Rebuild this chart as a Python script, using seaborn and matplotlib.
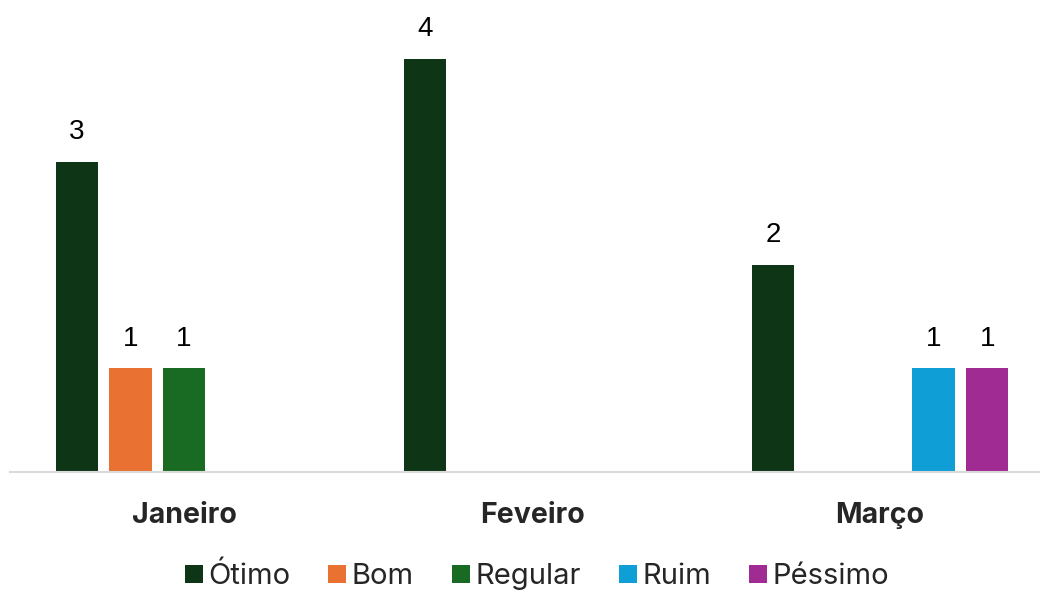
import matplotlib
matplotlib.use("Agg")
import matplotlib.pyplot as plt
from matplotlib.lines import Line2D
import seaborn as sns
import pandas as pd

# Avaliações por mês
meses = ["Janeiro", "Feveiro", "Março"]
categorias = ["Ótimo", "Bom", "Regular", "Ruim", "Péssimo"]
otimo = [3, 4, 2]
bom = [1, 0, 0]
regular = [1, 0, 0]
ruim = [0, 0, 1]
pessimo = [0, 0, 1]
cores = ["#0E3515", "#E97132", "#196B24", "#0F9ED5", "#A02B93"]

series = [otimo, bom, regular, ruim, pessimo]
linhas = []
for cat, vals in zip(categorias, series):
    for mes, v in zip(meses, vals):
        linhas.append({"mes": mes, "categoria": cat, "valor": v})
df = pd.DataFrame(linhas)
df = df[df["valor"] > 0]

sns.set_theme(style="white")
plt.rcParams["font.family"] = ["Inter", "DejaVu Sans"]

fig = plt.figure(figsize=(10.4, 5.9), dpi=100)
ax = fig.add_axes([10 / 1040, 118.5 / 590, 1044 / 1040, 471.5 / 590])

sns.barplot(
    data=df, x="mes", y="valor", hue="categoria",
    order=meses, hue_order=categorias, palette=cores,
    width=0.77, gap=0.21, linewidth=0, saturation=1,
    legend=False, ax=ax,
)

for cont in ax.containers:
    labels = [f"{b.get_height():.0f}" if b.get_height() > 0 else "" for b in cont]
    ax.bar_label(cont, labels=labels, padding=12, fontsize=20,
                 family=["Liberation Sans", "DejaVu Sans"], color="#000000")

ax.set_xlim(-0.5, 2.5)
ax.set_ylim(0, 4.567)
ax.set_xlabel("")
ax.set_ylabel("")
ax.set_yticks([])
ax.tick_params(axis="x", length=0, pad=22)
for lbl in ax.get_xticklabels():
    lbl.set_fontweight("bold")
    lbl.set_fontsize(20.5)
for s in ["top", "left", "right"]:
    ax.spines[s].set_visible(False)
ax.spines["bottom"].set_color("#D9D9D9")
ax.spines["bottom"].set_linewidth(1.5)

handles = [Line2D([], [], marker="s", linestyle="none", markersize=13,
                  markerfacecolor=c, markeredgewidth=0) for c in cores]
fig.legend(handles, categorias, loc="center", bbox_to_anchor=(537 / 1040, 14 / 590),
           ncol=5, frameon=False, fontsize=21, handlelength=0.6,
           handletextpad=0.2, columnspacing=1.3, borderaxespad=0)

fig.savefig("out.png", dpi=100)
